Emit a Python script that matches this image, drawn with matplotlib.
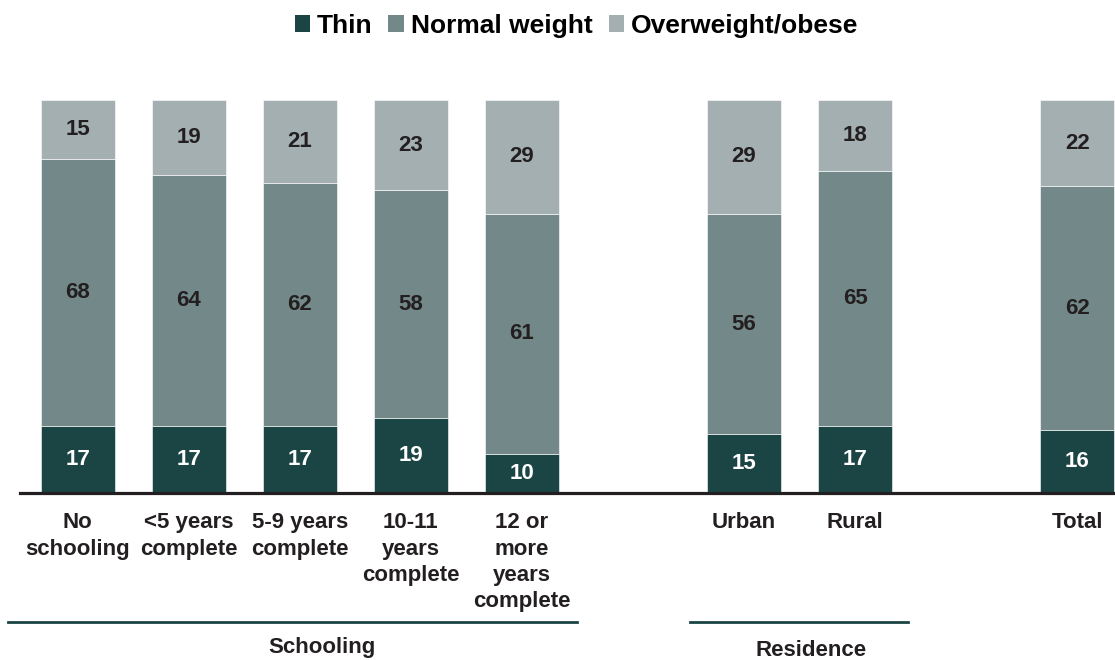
import matplotlib.pyplot as plt
import numpy as np
from matplotlib.lines import Line2D
from matplotlib.patches import Patch

plt.rcParams['font.family'] = ['Liberation Sans', 'DejaVu Sans']
plt.rcParams['font.weight'] = 'bold'

categories = ['No\nschooling', '<5 years\ncomplete', '5-9 years\ncomplete',
              '10-11\nyears\ncomplete', '12 or\nmore\nyears\ncomplete',
              'Urban', 'Rural', 'Total']
positions = [0, 1, 2, 3, 4, 6, 7, 9]
thin = [17, 17, 17, 19, 10, 15, 17, 16]
normal = [68, 64, 62, 58, 61, 56, 65, 62]
overweight = [15, 19, 21, 23, 29, 29, 18, 22]
series_names = ['Thin', 'Normal weight', 'Overweight/obese']
colors = ['#1b4545', '#738888', '#a3afb1']
text_colors = ['white', '#231f20', '#231f20']

fig = plt.figure(figsize=(11.15, 6.6), dpi=100)
ax = fig.add_axes([20 / 1115, 1 - 493 / 660, 1 - 20 / 1115, 393 / 660])

bottom = np.zeros(len(positions))
for vals, col, tcol in zip([thin, normal, overweight], colors, text_colors):
    vals = np.array(vals)
    ax.bar(positions, vals, bottom=bottom, width=0.667, color=col,
           edgecolor='white', linewidth=0.4)
    for x, b, v in zip(positions, bottom, vals):
        ax.text(x, b + v / 2, str(v), ha='center', va='center',
                fontsize=16, fontweight='bold', color=tcol)
    bottom += vals

ax.set_xlim(-0.52, 9.34)
ax.set_ylim(0, 100)
ax.set_xticks(positions)
ax.set_xticklabels(categories, fontsize=16, fontweight='bold', color='#231f20',
                   linespacing=1.32, va='top')
ax.tick_params(axis='x', length=0, pad=14)
ax.set_yticks([])
for s in ['top', 'left', 'right']:
    ax.spines[s].set_visible(False)
ax.spines['bottom'].set_linewidth(2.3)
ax.spines['bottom'].set_color('#231f20')

# legend
handles = [Patch(facecolor=c, label=n) for c, n in zip(colors, series_names)]
fig.legend(handles=handles, loc='center', bbox_to_anchor=(0.517, 1 - 26 / 660),
           ncol=3, frameon=False, handlelength=0.6,
           handleheight=0.6, handletextpad=0.25, columnspacing=0.6,
           prop={'weight': 'bold', 'size': 19})

# group brackets
y_line = 1 - 622 / 660
fig.add_artist(Line2D([8 / 1115, 577 / 1115], [y_line, y_line],
                      color='#1b4545', lw=2, transform=fig.transFigure))
fig.add_artist(Line2D([690 / 1115, 908 / 1115], [y_line, y_line],
                      color='#1b4545', lw=2, transform=fig.transFigure))
fig.text(322 / 1115, 1 - 647 / 660, 'Schooling', ha='center', va='center',
         fontsize=16, fontweight='bold', color='#231f20')
fig.text(811 / 1115, 1 - 651 / 660, 'Residence', ha='center', va='center',
         fontsize=16, fontweight='bold', color='#231f20')

fig.savefig('out.png', dpi=100)
